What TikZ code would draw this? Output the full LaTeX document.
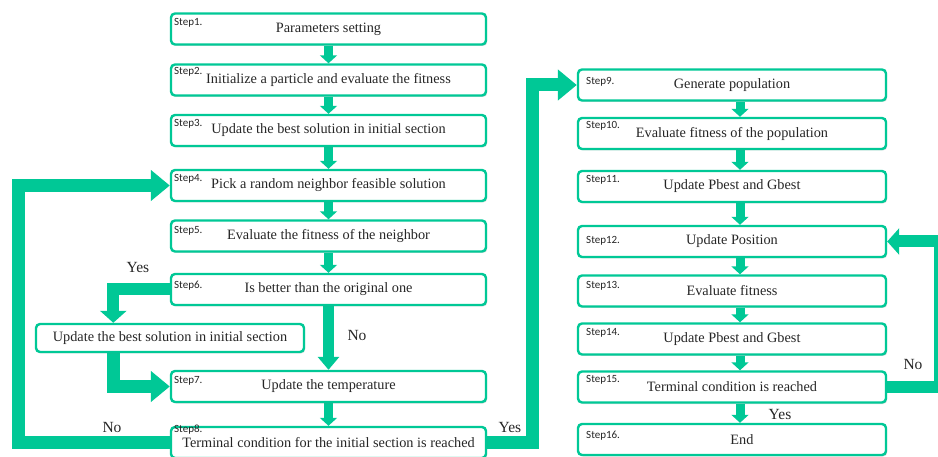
\documentclass[tikz,border=0pt]{standalone}
\usepackage{fontspec}
\setmainfont{Liberation Serif}
\newfontfamily\stepfont{Carlito}
\usetikzlibrary{arrows.meta,shadows}
\definecolor{tgreen}{RGB}{0,200,150}
\pgfdeclarelayer{background}
\pgfsetlayers{background,main}
\begin{document}
\begin{tikzpicture}[x=1pt,y=-1pt,
  box/.style={draw=tgreen, line width=2.4pt, rounded corners=4pt, fill=white, inner sep=0pt,
    font=\fontsize{14.3}{16}\selectfont, text=black!85,
    drop shadow={shadow xshift=1.2pt, shadow yshift=-1.5pt, opacity=0.25}},
  lbox/.style={box, minimum width=315pt, minimum height=31pt},
  rbox/.style={box, minimum width=308pt, minimum height=31pt},
  steplbl/.style={anchor=north west, inner sep=0pt, text=black!85, font=\stepfont\fontsize{11}{12}\selectfont},
  lbl/.style={inner sep=0pt, text=black!85, font=\fontsize{15.5}{17}\selectfont},
  smallarr/.style={draw=tgreen, line width=9pt, -{Triangle[width=17pt,length=8pt]}},
  bigarr/.style={draw=tgreen, line width=13pt, line join=miter, -{Triangle[width=30pt,length=19pt]}},
  midarr/.style={draw=tgreen, line width=12pt, line join=miter, -{Triangle[width=26pt,length=12pt]}}
]
\useasboundingbox (0,0) rectangle (938,457);

% left column
\node[lbox] (s1) at (328.5,29) {Parameters setting};
\node[lbox] (s2) at (328.5,80) {Initialize a particle and evaluate the fitness};
\node[lbox] (s3) at (328.5,130.5) {Update the best solution in initial section};
\node[lbox] (s4) at (328.5,185.5) {Pick a random neighbor feasible solution};
\node[lbox] (s5) at (328.5,236) {Evaluate the fitness of the neighbor};
\node[lbox] (s6) at (328.5,289.5) {Is better than the original one};
\node[box, minimum width=268pt, minimum height=28pt] (side) at (170,338) {Update the best solution in initial section};
\node[lbox] (s7) at (328.5,386.5) {Update the temperature};
\node[lbox] (s8) at (328.5,442.5) {Terminal condition for the initial section is reached};

% right column
\node[rbox] (s9) at (732,85) {Generate population};
\node[rbox] (s10) at (732,133.5) {Evaluate fitness of the population};
\node[rbox] (s11) at (732,186.5) {Update Pbest and Gbest};
\node[rbox] (s12) at (732,241.5) {Update Position};
\node[rbox] (s13) at (732,291) {Evaluate fitness};
\node[rbox] (s14) at (732,339) {Update Pbest and Gbest};
\node[rbox] (s15) at (732,387) {Terminal condition is reached};
\node[rbox] (s16) at (732,439.5) {\hspace*{20pt}End};

% step labels
\node[steplbl] (l1) at (174,18) {Step1.};
\node[steplbl] (l2) at (174,67) {Step2.};
\node[steplbl] (l3) at (174,119) {Step3.};
\node[steplbl] (l4) at (174,174) {Step4.};
\node[steplbl] (l5) at (174,226) {Step5.};
\node[steplbl] (l6) at (174,281) {Step6.};
\node[steplbl] (l7) at (174,376) {Step7.};
\node[steplbl] (l8) at (174,425) {Step8.};
\node[steplbl] (l9) at (586,77) {Step9.};
\node[steplbl] (l10) at (586,121) {Step10.};
\node[steplbl] (l11) at (586,175) {Step11.};
\node[steplbl] (l12) at (586,236) {Step12.};
\node[steplbl] (l13) at (586,281) {Step13.};
\node[steplbl] (l14) at (586,328) {Step14.};
\node[steplbl] (l15) at (586,375) {Step15.};
\node[steplbl] (l16) at (586,431) {Step16.};

% branch labels
\node[lbl] (yes1) at (138,268) {Yes};
\node[lbl] (no1) at (357,336) {No};
\node[lbl] (no2) at (112,428) {No};
\node[lbl] (yes2) at (510,428) {Yes};
\node[lbl] (no3) at (913,365) {No};
\node[lbl] (yes3) at (780,415) {Yes};

% helper coordinates
\path (side.north west) ++(78.5,0) coordinate (sidein);
\path (side.south west) ++(78.5,0) coordinate (sideout);

\begin{pgfonlayer}{background}
\draw[smallarr] (s1) -- (s2);
\draw[smallarr] (s2) -- (s3);
\draw[smallarr] (s3) -- (s4);
\draw[smallarr] (s4) -- (s5);
\draw[smallarr] (s5) -- (s6);
\draw[smallarr] (s7) -- (s8);
\draw[draw=tgreen, line width=11pt, -{Triangle[width=21pt,length=13pt]}] (s6) -- (s7);
\draw[smallarr] ([xshift=8pt]s9.south) -- ([xshift=8pt]s10.north);
\draw[smallarr] ([xshift=8pt]s10.south) -- ([xshift=8pt]s11.north);
\draw[smallarr] ([xshift=8pt]s11.south) -- ([xshift=8pt]s12.north);
\draw[smallarr] ([xshift=8pt]s12.south) -- ([xshift=8pt]s13.north);
\draw[smallarr] ([xshift=8pt]s13.south) -- ([xshift=8pt]s14.north);
\draw[smallarr] ([xshift=8pt]s14.south) -- ([xshift=8pt]s15.north);
\draw[smallarr] ([xshift=8pt]s15.south) -- ([xshift=8pt]s16.north);
\draw[bigarr] (s8.west) -- ++(-151.5,0) |- (s4.west);
\draw[midarr] (s6.west) -| (sidein);
\draw[bigarr] (sideout) |- (s7.west);
\draw[bigarr] (s8.east) -- ++(45,0) |- (s9.west);
\draw[midarr] (s15.east) -- ++(53,0) |- (s12.east);
\end{pgfonlayer}
\end{tikzpicture}
\end{document}
